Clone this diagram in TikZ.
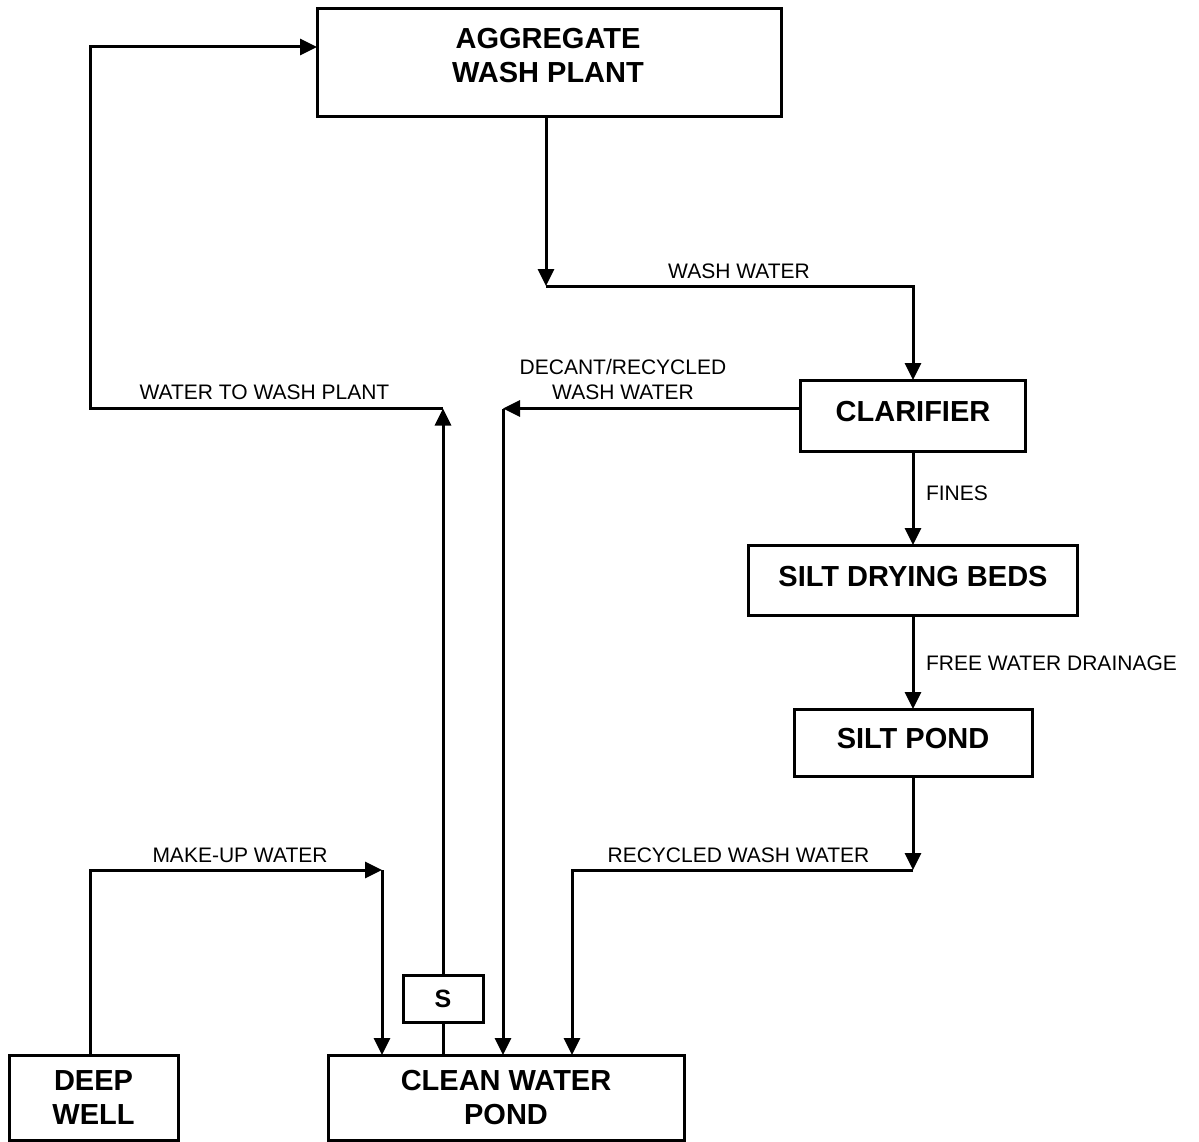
\documentclass[tikz,border=0pt]{standalone}
\usepackage{fontspec}
\setmainfont{Liberation Sans}
\usetikzlibrary{arrows.meta, positioning}

\begin{document}
\begin{tikzpicture}[
x=1pt, y=-1pt,
line width=3pt,
box/.style={rectangle, draw, line width=3pt, inner sep=0pt, outer sep=0pt, align=center, font=\fontsize{29}{34}\selectfont\bfseries},
onebox/.style={box, text depth=8pt},
lbl/.style={inner sep=0pt, outer sep=0pt, align=center, font=\fontsize{21}{25}\selectfont},
arrow/.style={-{Triangle[length=17pt, width=16pt]}, line width=3pt},
pipe/.style={line width=3pt}
]

\path[use as bounding box, fill=white] (0,0) rectangle (1199,1142);

% process boxes
\node[box, minimum width=464pt, minimum height=108pt] (plant) at (549,63) {};
\node[box, draw=none] (plant-text) at (548,55.5) {AGGREGATE\\WASH PLANT};
\node[onebox, minimum width=225pt, minimum height=71pt] (clar) at (913,415.5) {CLARIFIER};
\node[onebox, minimum width=329pt, minimum height=70pt, below=94pt of clar] (beds) {SILT DRYING BEDS};
\node[onebox, minimum width=238pt, minimum height=67pt, below=94pt of beds] (spond) {SILT POND};
\node[box, minimum width=356pt, minimum height=85pt] (pond) at (506,1097.5) {CLEAN WATER\\POND};
\node[box, minimum width=169pt, minimum height=85pt] (well) at (93.5,1097.5) {DEEP\\WELL};
\node[box, minimum width=80pt, minimum height=47pt, font=\fontsize{25}{29}\selectfont\bfseries] (screen) at (443,998.5) {S};

% turning points
\coordinate (wwturn) at (546,286);
\coordinate (dcturn) at (503,408.5);
\coordinate (wpturn) at (443,408.5);
\coordinate (wpleft) at (90,408.5);
\coordinate (inlet) at (plant.west |- 0,47);
\coordinate (rcturn) at (913,870);
\coordinate (rcleft) at (572,870);
\coordinate (muleft) at (90,870);
\coordinate (muturn) at (382,870);

% flows
\draw[arrow] (wwturn |- plant.south) -- (wwturn);
\draw[arrow] (wwturn) -| (clar.north);
\draw[arrow] (clar.west |- dcturn) -- (dcturn);
\draw[arrow] (dcturn) -- (dcturn |- pond.north);
\draw[arrow] (clar) -- (beds);
\draw[arrow] (beds) -- (spond);
\draw[arrow] (spond) -- (rcturn);
\draw[arrow] (rcturn) -- (rcleft) -- (rcleft |- pond.north);
\draw[arrow] (muleft |- well.north) -- (muleft) -- (muturn);
\draw[arrow] (muturn) -- (muturn |- pond.north);
\draw[pipe] (screen.south) -- (screen.south |- pond.north);
\draw[arrow] (screen.north) -- (wpturn);
\draw[arrow] (wpturn) -- (wpleft) |- (inlet);

% flow labels
\node[lbl] (l-wash) at (739,271) {WASH WATER};
\node[lbl] (l-decant) at (623,379.5) {DECANT/RECYCLED\\WASH WATER};
\node[lbl] (l-toplant) at (264.5,392.5) {WATER TO WASH PLANT};
\node[lbl, anchor=west] (l-fines) at (926,493) {FINES};
\node[lbl, anchor=west] (l-drain) at (926,663) {FREE WATER DRAINAGE};
\node[lbl] (l-makeup) at (240,855) {MAKE-UP WATER};
\node[lbl] (l-recycled) at (738.5,855) {RECYCLED WASH WATER};

\end{tikzpicture}
\end{document}
